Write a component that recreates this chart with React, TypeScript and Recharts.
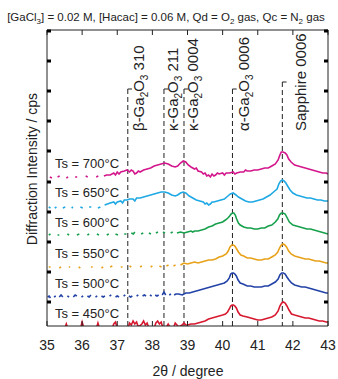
import { LineChart, Line, XAxis, YAxis, ReferenceLine } from 'recharts';

type Pt = [number, number | null];

const xTicks = [35, 36, 37, 38, 39, 40, 41, 42, 43];
const yTicks = [24, 54, 84, 114, 144, 175, 205, 235, 265, 295];

// offset intensity (a.u.), null = gap (no counts)
const s700: Pt[] = [
  [35.08, 149], [35.14, 148], [35.18, null], [35.3, 149], [35.36, 150], [35.4, null],
  [35.55, 148], [35.6, 149], [35.64, null], [35.8, 149], [35.86, 149], [35.9, null],
  [36.1, 150], [36.16, 149], [36.2, null], [36.4, 149], [36.46, 150], [36.5, null],
  [36.62, 150], [36.7, 151], [36.8, 151], [36.9, 153], [36.95, 151], [37.0, 154], [37.05, 152],
  [37.1, 154], [37.2, 155], [37.28, 156], [37.35, 154], [37.4, 156], [37.45, 155], [37.5, 152],
  [37.55, 153], [37.6, 155], [37.65, 154], [37.75, 156], [37.85, 157], [37.95, 158], [38.05, 160],
  [38.15, 161], [38.25, 162], [38.35, 163], [38.45, 162], [38.55, 160], [38.65, 159], [38.72, 160],
  [38.8, 163], [38.88, 165], [38.95, 164], [39.02, 161], [39.1, 159], [39.2, 157], [39.25, 158],
  [39.3, 155], [39.4, 154], [39.45, 152], [39.5, 153], [39.55, 150], [39.6, 151], [39.65, 149],
  [39.7, 152], [39.75, 150], [39.8, 151], [39.85, 153], [39.9, 152], [40.0, 153], [40.05, 151],
  [40.1, 153], [40.2, 153], [40.3, 154], [40.35, 152], [40.4, 153], [40.5, 154], [40.6, 154],
  [40.65, 156], [40.7, 155], [40.8, 155], [40.9, 156], [41.0, 156], [41.1, 157], [41.2, 158],
  [41.3, 158], [41.4, 160], [41.5, 162], [41.58, 166], [41.63, 171], [41.67, 174], [41.72, 174],
  [41.78, 173], [41.83, 171], [41.88, 167], [41.95, 164], [42.05, 161], [42.15, 160], [42.25, 159],
  [42.35, 158], [42.45, 157], [42.55, 156], [42.65, 155], [42.75, 154], [42.85, 153], [42.95, 153],
  [43.0, 152],
];

const s650: Pt[] = [
  [35.05, 119], [35.1, 118], [35.13, null], [35.22, 118], [35.27, 119], [35.3, null],
  [35.45, 118], [35.52, 119], [35.55, null], [35.7, 118], [35.74, 119], [35.78, null],
  [35.95, 119], [36.02, 118], [36.05, null], [36.2, 119], [36.26, 119], [36.3, null],
  [36.45, 118], [36.52, 119], [36.56, null], [36.64, 121], [36.72, 122], [36.8, 123],
  [36.9, 124], [36.95, 122], [37.0, 124], [37.1, 125], [37.15, 123], [37.2, 126], [37.28, 126],
  [37.35, 127], [37.45, 127], [37.5, 125], [37.55, 128], [37.65, 128], [37.75, 129], [37.85, 130],
  [37.95, 131], [38.05, 132], [38.15, 133], [38.25, 134], [38.35, 134], [38.45, 133], [38.55, 131],
  [38.65, 130], [38.72, 131], [38.8, 133], [38.88, 134], [38.95, 133], [39.05, 130], [39.15, 128],
  [39.25, 126], [39.35, 125], [39.45, 124], [39.5, 122], [39.55, 123], [39.6, 121], [39.65, 122],
  [39.7, 124], [39.75, 124], [39.85, 125], [39.95, 126], [40.05, 127], [40.15, 130], [40.22, 132],
  [40.3, 133], [40.38, 131], [40.45, 129], [40.55, 127], [40.65, 125], [40.75, 124], [40.85, 124],
  [40.95, 125], [41.05, 126], [41.15, 127], [41.25, 129], [41.35, 131], [41.45, 134], [41.55, 137],
  [41.6, 142], [41.65, 145], [41.7, 146], [41.75, 145], [41.8, 143], [41.85, 140], [41.92, 136],
  [42.0, 133], [42.1, 131], [42.2, 130], [42.3, 129], [42.4, 128], [42.5, 128], [42.6, 127],
  [42.7, 126], [42.8, 126], [42.9, 125], [43.0, 125],
];

const s600: Pt[] = [
  [35.05, 91], [35.1, 92], [35.13, null], [35.3, 91], [35.35, 91], [35.38, null],
  [35.58, 92], [35.63, 91], [35.66, null], [35.85, 91], [35.92, 92], [35.95, null],
  [36.15, 91], [36.2, 92], [36.23, null], [36.42, 92], [36.48, 91], [36.51, null],
  [36.7, 91], [36.76, 92], [36.79, null], [36.95, 92], [37.02, 91], [37.05, null],
  [37.2, 92], [37.26, 92], [37.29, null], [37.4, 93], [37.46, 92], [37.5, 94], [37.53, null],
  [37.68, 92], [37.74, 93], [37.77, null], [37.9, 93], [37.96, 92], [37.99, null],
  [38.1, 93], [38.16, 94], [38.19, null], [38.3, 94], [38.36, 93], [38.39, null],
  [38.52, 93], [38.58, 94], [38.61, null], [38.7, 93], [38.8, 94], [38.9, 93], [39.0, 94],
  [39.1, 95], [39.15, 94], [39.2, 95], [39.3, 95], [39.4, 96], [39.5, 97], [39.6, 99], [39.7, 100],
  [39.8, 102], [39.9, 103], [40.0, 104], [40.08, 106], [40.15, 108], [40.2, 110], [40.24, 112],
  [40.28, 113], [40.32, 113], [40.36, 111], [40.4, 107], [40.45, 103], [40.5, 101], [40.6, 99],
  [40.7, 98], [40.8, 98], [40.9, 97], [41.0, 97], [41.1, 98], [41.2, 98], [41.3, 100], [41.4, 101],
  [41.5, 104], [41.57, 107], [41.62, 111], [41.67, 113], [41.72, 113], [41.78, 112], [41.84, 108],
  [41.9, 104], [42.0, 101], [42.1, 100], [42.2, 99], [42.3, 98], [42.4, 97], [42.5, 97],
  [42.6, 96], [42.7, 95], [42.8, 94], [42.9, 93], [43.0, 92],
];

const s550: Pt[] = [
  [35.05, 59], [35.1, 59], [35.13, null], [35.35, 58], [35.4, 59], [35.43, null],
  [35.62, 59], [35.66, 59], [35.69, null], [35.9, 59], [35.95, 58], [35.98, null],
  [36.25, 59], [36.3, 59], [36.33, null], [36.55, 58], [36.6, 59], [36.63, null],
  [36.8, 59], [36.86, 60], [36.89, null], [37.1, 59], [37.15, 59], [37.18, null],
  [37.35, 60], [37.4, 59], [37.43, null], [37.65, 59], [37.7, 60], [37.73, null],
  [37.95, 59], [38.0, 60], [38.03, null], [38.2, 60], [38.26, 59], [38.29, null],
  [38.4, 60], [38.46, 61], [38.49, null], [38.6, 60], [38.66, 61], [38.69, null],
  [38.8, 61], [38.9, 63], [39.0, 62], [39.1, 63], [39.2, 64], [39.3, 63], [39.4, 64], [39.5, 65],
  [39.6, 66], [39.7, 66], [39.8, 67], [39.9, 69], [40.0, 70], [40.1, 72], [40.16, 75], [40.21, 79],
  [40.26, 81], [40.3, 81], [40.35, 80], [40.4, 77], [40.45, 74], [40.52, 71], [40.6, 70],
  [40.7, 68], [40.8, 68], [40.9, 67], [41.0, 66], [41.1, 66], [41.2, 67], [41.3, 67], [41.4, 69],
  [41.5, 71], [41.57, 74], [41.62, 78], [41.67, 81], [41.72, 82], [41.77, 81], [41.82, 79],
  [41.88, 75], [41.95, 72], [42.05, 70], [42.15, 69], [42.25, 68], [42.35, 67], [42.45, 67],
  [42.55, 66], [42.65, 65], [42.75, 65], [42.85, 64], [42.95, 63], [43.0, 63],
];

const s500: Pt[] = [
  [35.02, 29], [35.06, 30], [35.1, 28], [35.13, null], [35.2, 29], [35.25, 30], [35.28, null],
  [35.35, 29], [35.4, 31], [35.45, 29], [35.48, null], [35.58, 30], [35.63, 29], [35.66, null],
  [35.75, 29], [35.8, 31], [35.85, 30], [35.88, null], [35.98, 29], [36.03, 30], [36.06, null],
  [36.15, 30], [36.2, 29], [36.25, 31], [36.28, null], [36.38, 29], [36.43, 30], [36.46, null],
  [36.55, 30], [36.6, 29], [36.65, 30], [36.68, null], [36.78, 30], [36.83, 31], [36.86, null],
  [36.95, 29], [37.0, 30], [37.05, 29], [37.08, null], [37.18, 30], [37.23, 31], [37.26, null],
  [37.33, 30], [37.38, 29], [37.43, 30], [37.46, null], [37.55, 30], [37.6, 31], [37.63, null],
  [37.72, 30], [37.77, 31], [37.82, 30], [37.85, null], [37.93, 31], [37.98, 30], [38.01, null],
  [38.08, 31], [38.13, 30], [38.18, 31], [38.21, null], [38.28, 31], [38.33, 34], [38.38, 31],
  [38.41, null], [38.48, 31], [38.53, 32], [38.56, null], [38.62, 31], [38.67, 32], [38.75, 32],
  [38.85, 31], [38.95, 33], [39.05, 33], [39.15, 34], [39.25, 35], [39.35, 36], [39.45, 37],
  [39.55, 38], [39.65, 39], [39.75, 40], [39.85, 41], [39.95, 42], [40.05, 43], [40.13, 45],
  [40.19, 48], [40.23, 52], [40.27, 53], [40.31, 53], [40.35, 52], [40.39, 50], [40.44, 46],
  [40.5, 43], [40.58, 42], [40.7, 40], [40.8, 40], [40.9, 39], [41.0, 39], [41.1, 39], [41.2, 40],
  [41.3, 40], [41.4, 42], [41.5, 44], [41.58, 47], [41.63, 51], [41.68, 53], [41.73, 53],
  [41.78, 52], [41.83, 49], [41.89, 46], [41.96, 43], [42.05, 41], [42.15, 40], [42.25, 39],
  [42.35, 39], [42.45, 38], [42.55, 37], [42.65, 36], [42.75, 35], [42.85, 34], [42.95, 33],
  [43.0, 33],
];

const s450: Pt[] = [
  [35.0, -3], [35.5, -3], [35.55, 2], [35.6, -3], [35.95, -3], [36.0, 4], [36.05, -2],
  [36.4, -3], [36.45, 3], [36.5, -3], [36.85, -3], [36.9, 2], [36.95, 4], [37.0, -2],
  [37.3, -3], [37.35, 3], [37.4, 1], [37.45, 5], [37.5, 2], [37.55, 4], [37.6, -1], [37.7, 2],
  [37.75, 5], [37.8, 1], [37.85, 3], [37.9, -2], [38.05, -2], [38.1, 3], [38.15, 5], [38.2, 2],
  [38.25, 4], [38.3, -2], [38.4, -1], [38.45, 2], [38.5, -1], [38.6, -2], [38.65, 3], [38.7, 1],
  [38.75, -1], [38.85, 1], [38.9, 3], [38.95, 1], [39.0, 1], [39.1, 2], [39.2, 2], [39.3, 3],
  [39.4, 4], [39.5, 5], [39.6, 7], [39.7, 8], [39.8, 9], [39.9, 10], [40.0, 11], [40.08, 12],
  [40.14, 14], [40.19, 17], [40.23, 20], [40.27, 21], [40.31, 21], [40.35, 20], [40.39, 18],
  [40.44, 14], [40.5, 11], [40.58, 10], [40.7, 9], [40.8, 8], [40.9, 7], [41.0, 6], [41.1, 6],
  [41.2, 7], [41.3, 8], [41.4, 9], [41.5, 11], [41.58, 15], [41.63, 20], [41.68, 23], [41.73, 24],
  [41.78, 23], [41.83, 20], [41.89, 16], [41.96, 12], [42.05, 11], [42.15, 10], [42.25, 9],
  [42.35, 8], [42.45, 8], [42.55, 7], [42.65, 6], [42.75, 5], [42.85, 5], [42.95, 4], [43.0, 4],
];

const seriesNames = ['Ts = 700°C', 'Ts = 650°C', 'Ts = 600°C', 'Ts = 550°C', 'Ts = 500°C', 'Ts = 450°C'];
const seriesValues = [s700, s650, s600, s550, s500, s450];
const seriesColors = ['#d4168c', '#1ea8e4', '#17a04c', '#e8a21a', '#2343a6', '#d8182f'];

// odd entries are subscripts
const phaseNames = [
  ['β-Ga', '2', 'O', '3', ' 310'],
  ['κ-Ga', '2', 'O', '3', ' 211'],
  ['κ-Ga', '2', 'O', '3', ' 0004'],
  ['α-Ga', '2', 'O', '3', ' 0006'],
  ['Sapphire 0006'],
];
const phasePos = [37.3, 38.33, 38.9, 40.28, 41.7];
const phaseTop = [237, 237, 237, 237, 244];

const FONT = '"Liberation Sans", Arial, sans-serif';
const INK = '#222';
const labelDx = [11, 9, 9, 11, 18];
const labelBaseY = 131;
const tsLabelY = [168, 197, 227, 258, 288, 318];

const BottomTick = (p: any) => (
  <g>
    <line x1={p.x} x2={p.x} y1={p.y} y2={p.y - 5} stroke={INK} />
    <text x={p.x} y={p.y + 24} textAnchor="middle" fontSize={14} fill={INK} fontFamily={FONT}>
      {p.payload.value}
    </text>
  </g>
);
const TopTick = (p: any) => <line x1={p.x} x2={p.x} y1={p.y} y2={p.y + 5} stroke={INK} />;
const LeftTick = (p: any) => <rect x={p.x} y={p.y - 1.5} width={4} height={3} fill="#000" />;
const RightTick = (p: any) => <rect x={p.x - 4} y={p.y - 1.5} width={4} height={3} fill="#000" />;

const phaseLabel = (i: number) => (props: any) => {
  const vb = props.viewBox || {};
  const x = (vb.x ?? 0) + labelDx[i] + 5.5;
  return (
    <text transform={`translate(${x},${labelBaseY}) rotate(-90)`} fontSize={15} fill={INK} fontFamily={FONT}>
      {phaseNames[i].map((t, k) =>
        k % 2 === 1 ? (
          <tspan key={k} fontSize={10} dy={4}>{t}</tspan>
        ) : (
          <tspan key={k} dy={k > 0 ? -4 : 0}>{t}</tspan>
        )
      )}
    </text>
  );
};

export default function App() {
  return (
    <div style={{ position: 'absolute', left: 0, top: 0, width: 338, height: 379, background: '#fff' }}>
      <LineChart width={338} height={379} margin={{ top: 0, right: 0, bottom: 0, left: 0 }}>
        <XAxis
          dataKey="x"
          type="number"
          domain={[35, 43]}
          ticks={xTicks}
          allowDataOverflow
          height={53}
          tickLine={false}
          tickSize={0}
          tickMargin={0}
          axisLine={{ stroke: INK }}
          tick={BottomTick}
        />
        <XAxis
          xAxisId="top"
          orientation="top"
          dataKey="x"
          type="number"
          domain={[35, 43]}
          ticks={xTicks}
          allowDataOverflow
          height={30}
          tickLine={false}
          tickSize={0}
          tickMargin={0}
          axisLine={{ stroke: INK }}
          tick={TopTick}
        />
        <YAxis
          type="number"
          domain={[0, 296]}
          ticks={yTicks}
          allowDataOverflow
          width={47}
          tickLine={false}
          tickSize={0}
          tickMargin={0}
          axisLine={{ stroke: INK }}
          tick={LeftTick}
        />
        <YAxis
          yAxisId="right"
          orientation="right"
          type="number"
          domain={[0, 296]}
          ticks={yTicks}
          allowDataOverflow
          width={10}
          tickLine={false}
          tickSize={0}
          tickMargin={0}
          axisLine={{ stroke: INK }}
          tick={RightTick}
        />
        {phasePos.map((p, i) => (
          <ReferenceLine
            key={`v${i}`}
            segment={[{ x: p, y: phaseTop[i] }, { x: p, y: 0 }]}
            stroke={INK}
            strokeDasharray="5 3"
            label={phaseLabel(i)}
          />
        ))}
        {phasePos.map((p, i) => (
          <ReferenceLine
            key={`h${i}`}
            segment={[{ x: p, y: phaseTop[i] }, { x: p + 0.12, y: phaseTop[i] }]}
            stroke={INK}
          />
        ))}
        {seriesValues.map((s, i) => (
          <Line
            key={seriesNames[i]}
            data={s.map(([x, y]) => ({ x, y }))}
            dataKey="y"
            name={seriesNames[i]}
            stroke={seriesColors[i]}
            strokeWidth={1.6}
            dot={false}
            connectNulls={false}
            isAnimationActive={false}
          />
        ))}
      </LineChart>
      <svg
        width={338}
        height={379}
        style={{ position: 'absolute', left: 0, top: 0, pointerEvents: 'none' }}
        fontFamily={FONT}
        fill={INK}
      >
        <text x={166} y={21} textAnchor="middle" fontSize={11.5}>
          [GaCl<tspan fontSize={8} dy={3}>3</tspan>
          <tspan dy={-3}>] = 0.02 M, [Hacac] = 0.06 M, Qd = O</tspan>
          <tspan fontSize={8} dy={3}>2</tspan>
          <tspan dy={-3}> gas, Qc = N</tspan>
          <tspan fontSize={8} dy={3}>2</tspan>
          <tspan dy={-3}> gas</tspan>
        </text>
        <text transform="translate(37,169) rotate(-90)" textAnchor="middle" fontSize={14}>
          Diffraction Intensity / cps
        </text>
        <text x={188} y={376} textAnchor="middle" fontSize={14}>
          2θ / degree
        </text>
        {seriesNames.map((n, i) => (
          <text key={n} x={55} y={tsLabelY[i]} fontSize={13}>
            {n}
          </text>
        ))}
      </svg>
    </div>
  );
}
